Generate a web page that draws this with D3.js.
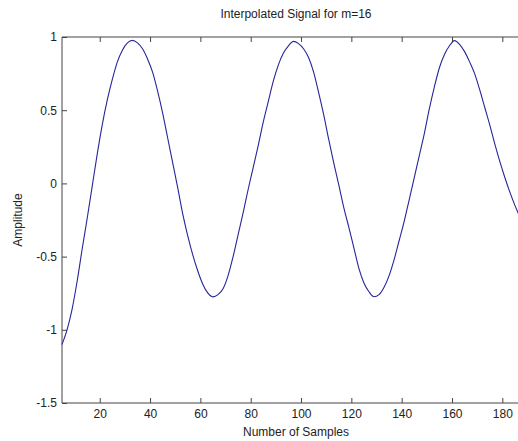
<!DOCTYPE html>
<html>
<head>
    <meta charset="utf-8">
    <script src="https://d3js.org/d3.v7.min.js"></script>
    <style>
        body { margin: 0; background: #fff; }
        text { font-family: "Liberation Sans", Arial, sans-serif; fill: #222; }
    </style>
</head>
<body>
<script>
    // samples
    var samples = [5, 7, 9, 11, 13, 15, 17, 19, 21, 23, 25, 27, 29, 31, 33, 35, 37, 39, 41, 43,
        45, 47, 49, 51, 53, 55, 57, 59, 61, 63, 65, 67, 69, 71, 73, 75, 77, 79, 81, 83,
        85, 87, 89, 91, 93, 95, 97, 99, 101, 103, 105, 107, 109, 111, 113, 115, 117, 119, 121, 123,
        125, 127, 129, 131, 133, 135, 137, 139, 141, 143, 145, 147, 149, 151, 153, 155, 157, 159, 161, 163,
        165, 167, 169, 171, 173, 175, 177, 179, 181, 183, 185, 187];
    var amplitude = [-1.10, -1.00, -0.86, -0.67, -0.45, -0.24, -0.02, 0.20, 0.40, 0.57,
        0.71, 0.83, 0.91, 0.96, 0.977, 0.96, 0.92, 0.85, 0.76, 0.63,
        0.48, 0.31, 0.14, -0.03, -0.21, -0.36, -0.49, -0.60, -0.69, -0.75,
        -0.775, -0.76, -0.72, -0.63, -0.50, -0.35, -0.20, -0.04, 0.11, 0.26,
        0.42, 0.56, 0.70, 0.81, 0.89, 0.94, 0.97, 0.955, 0.92, 0.86,
        0.76, 0.62, 0.47, 0.30, 0.14, -0.01, -0.165, -0.30, -0.44, -0.58,
        -0.68, -0.74, -0.774, -0.76, -0.71, -0.63, -0.52, -0.39, -0.26, -0.11,
        0.04, 0.19, 0.34, 0.51, 0.66, 0.79, 0.88, 0.94, 0.975, 0.95,
        0.90, 0.83, 0.75, 0.64, 0.52, 0.40, 0.27, 0.15, 0.04, -0.06,
        -0.15, -0.23];
    var xTicks = [20, 40, 60, 80, 100, 120, 140, 160, 180];
    var yTicks = [-1.5, -1, -0.5, 0, 0.5, 1];

    var data = samples.map(function (s, i) { return { x: s, y: amplitude[i] }; });

    var outerWidth = 518, outerHeight = 441,
        margin = { top: 37, left: 62, bottom: 38 },
        plotRight = 530; // axes run past the cropped right edge

    var svg = d3.select("body").append("svg")
        .attr("width", outerWidth).attr("height", outerHeight);

    var xScale = d3.scaleLinear().domain([5, 191]).range([margin.left, plotRight]);
    var yScale = d3.scaleLinear().domain([-1.5, 1]).range([outerHeight - margin.bottom, margin.top]);

    var axisColor = "#444";

    // box (top, left, bottom)
    svg.append("path")
        .attr("d", "M" + plotRight + "," + yScale(1) + "H" + xScale(5) + "V" + yScale(-1.5) + "H" + plotRight)
        .attr("fill", "none").attr("stroke", axisColor).attr("stroke-width", 1);

    var xAxis = svg.append("g")
        .attr("transform", "translate(0," + yScale(-1.5) + ")")
        .call(d3.axisBottom(xScale).tickValues(xTicks).tickSize(-5).tickPadding(6).tickFormat(d3.format("d")));
    xAxis.select(".domain").remove();
    xAxis.selectAll("line").attr("stroke", axisColor);
    xAxis.selectAll("text").attr("font-size", 12).style("fill", "#222");

    var topTicks = svg.append("g")
        .attr("transform", "translate(0," + yScale(1) + ")")
        .call(d3.axisTop(xScale).tickValues(xTicks).tickSize(-5).tickFormat(""));
    topTicks.select(".domain").remove();
    topTicks.selectAll("line").attr("stroke", axisColor);

    var yAxis = svg.append("g")
        .attr("transform", "translate(" + xScale(5) + ",0)")
        .call(d3.axisLeft(yScale).tickValues(yTicks).tickSize(-5).tickPadding(5).tickFormat(function (d) { return d; }));
    yAxis.select(".domain").remove();
    yAxis.selectAll("line").attr("stroke", axisColor);
    yAxis.selectAll("text").attr("font-size", 12).style("fill", "#222");

    var lineGenerator = d3.line()
        .x(function (d) { return xScale(d.x); })
        .y(function (d) { return yScale(d.y); })
        .curve(d3.curveMonotoneX);

    svg.append("path")
        .datum(data)
        .attr("fill", "none")
        .attr("stroke", "#26269a")
        .attr("stroke-width", 1.1)
        .attr("d", lineGenerator);

    var midX = (margin.left + plotRight) / 2;

    svg.append("text")
        .attr("x", midX).attr("y", 18)
        .attr("text-anchor", "middle").attr("font-size", 12)
        .text("Interpolated Signal for m=16");

    svg.append("text")
        .attr("x", midX).attr("y", 436)
        .attr("text-anchor", "middle").attr("font-size", 12)
        .text("Number of Samples");

    svg.append("text")
        .attr("transform", "translate(22," + (yScale(-0.25)) + ") rotate(-90)")
        .attr("text-anchor", "middle").attr("font-size", 12)
        .text("Amplitude");
</script>
</body>
</html>
